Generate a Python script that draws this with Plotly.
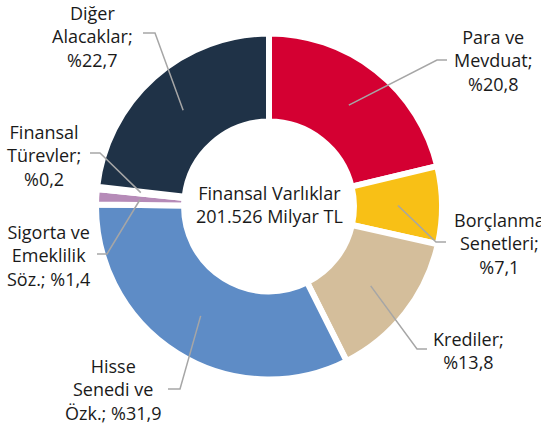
import math
import plotly.graph_objects as go

# ---- data ----
categories = ["Para ve Mevduat", "Borçlanma Senetleri", "Krediler",
              "Hisse Senedi ve Özk.", "Sigorta ve Emeklilik Söz.",
              "Finansal Türevler", "Diğer Alacaklar"]
label_names = ["Para ve<br>Mevduat", "Borçlanma<br>Senetleri", "Krediler",
               "Hisse<br>Senedi ve<br>Özk.", "Sigorta ve<br>Emeklilik<br>Söz.",
               "Finansal<br>Türevler", "Diğer<br>Alacaklar"]
values = [20.8, 7.1, 13.8, 31.9, 1.4, 0.2, 22.7]
center_title = "Finansal Varlıklar"
center_value = "201.526 Milyar TL"

# ---- styling ----
colors = ["#D40032", "#F8C016", "#D4BE9B", "#5E8CC6", "#B68BB8", "#9E9E9E", "#1F3247"]
pct_joiner = ["<br>", "<br>", "<br>", " ", " ", "<br>", "<br>"]
W, H = 541, 429
CX, CY = 269, 206.5          # pie centre (px)
R_DOM = 173                  # domain radius (px)
GAP = 6                      # white separator width
HOLE = 0.491
R_OUT = R_DOM - GAP / 2
R_IN = HOLE * R_DOM + GAP / 2
R_MID = (R_OUT + R_IN) / 2

# label placement (px): elbow point, end of horizontal tick, label centre
label_layout = [
    dict(elbow=(437, 60), end=447, pos=(493, 60)),
    dict(elbow=(436, 242), end=446, pos=(499, 244)),
    dict(elbow=(417, 349), end=427, pos=(468, 350)),
    dict(elbow=(180, 389), end=168, pos=(113, 389)),
    dict(elbow=(107, 254), end=97, pos=(48, 255)),
    dict(elbow=(100, 153), end=90, pos=(44, 155)),
    dict(elbow=(155, 33), end=143, pos=(92, 37)),
]

FONT = "Open Sans, Noto Sans, sans-serif"
FS = 18
TEXT_COLOR = "#1A1A1A"
LINE_COLOR = "#A6A6A6"


def px(x):
    return x / W


def py(y):
    return 1 - y / H


fig = go.Figure()
fig.add_trace(go.Pie(
    labels=categories, values=values, sort=False, direction="clockwise",
    rotation=0, hole=HOLE, textinfo="none", hoverinfo="label+percent",
    marker=dict(colors=colors, line=dict(color="white", width=GAP)),
    domain=dict(x=[px(CX - R_DOM), px(CX + R_DOM)],
                y=[py(CY + R_DOM), py(CY - R_DOM)]),
    showlegend=False,
))

total = sum(values)
shapes, annotations = [], []
cum = 0.0
for name, v, j, lay in zip(label_names, values, pct_joiner, label_layout):
    ang = math.radians(360 * (cum + v / 2) / total)
    cum += v
    sx = CX + R_MID * math.sin(ang)
    sy = CY - R_MID * math.cos(ang)
    ex, ey = lay["elbow"]
    path = f"M {px(sx)} {py(sy)} L {px(ex)} {py(ey)} L {px(lay['end'])} {py(ey)}"
    shapes.append(dict(type="path", xref="paper", yref="paper", path=path,
                       line=dict(color=LINE_COLOR, width=1.5)))
    pct = f"{v:.1f}".replace(".", ",")
    text = f"{name};{j}%{pct}"
    lx, ly = lay["pos"]
    annotations.append(dict(text=text, x=px(lx), y=py(ly), xref="paper", yref="paper",
                            xanchor="center", yanchor="middle", showarrow=False,
                            align="center", font=dict(family=FONT, size=FS, color=TEXT_COLOR)))

annotations.append(dict(text=f"{center_title}<br>{center_value}", x=px(CX), y=py(CY - 2),
                        xref="paper", yref="paper", xanchor="center", yanchor="middle",
                        showarrow=False, align="center",
                        font=dict(family=FONT, size=FS, color=TEXT_COLOR)))

fig.update_layout(
    width=W, height=H, margin=dict(l=0, r=0, t=0, b=0),
    paper_bgcolor="white", plot_bgcolor="white",
    shapes=shapes, annotations=annotations,
)

fig.write_html("out.html", config={"displayModeBar": False},
               post_script="document.body.style.margin='0px';document.body.style.overflow='hidden';")
